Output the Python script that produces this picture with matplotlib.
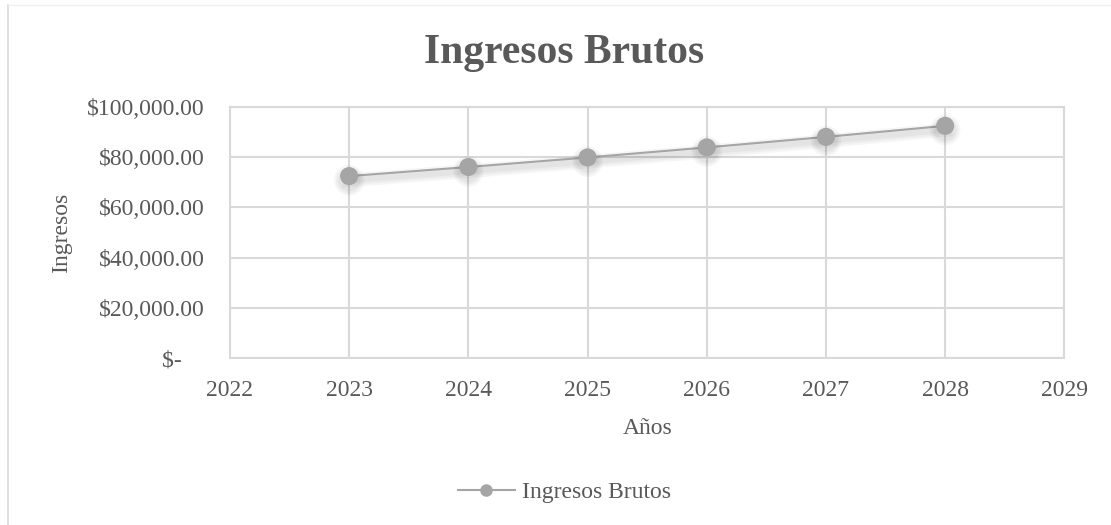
import matplotlib.pyplot as plt
import matplotlib.patheffects as pe
from matplotlib.lines import Line2D
from matplotlib.ticker import FuncFormatter

# Ingresos brutos proyectados por año
years = [2023, 2024, 2025, 2026, 2027, 2028]
ingresos = [72500, 76125, 79931, 83928, 88124, 92530]

plt.rcParams['font.family'] = ['Liberation Serif', 'DejaVu Serif']

text_color = '#595959'
grid_color = '#d9d9d9'
line_color = '#a5a5a5'


def money(v, pos):
    if v == 0:
        return '$-    '
    return '${:,.2f}'.format(v)


fig = plt.figure(figsize=(11.11, 5.25), dpi=100)
ax = fig.add_axes([0.207, 0.318, 0.751, 0.478])

# soft drop shadow: a few wide, faint strokes under the line
shadow = [pe.SimpleLineShadow(offset=(0, -3), shadow_color='#000000', alpha=0.035, linewidth=w)
          for w in (10, 7, 4)]
ax.plot(years, ingresos, color=line_color, linewidth=1.5, marker='o',
        markersize=12, markerfacecolor=line_color, markeredgecolor=line_color,
        zorder=3, path_effects=shadow + [pe.Normal()])

ax.set_xlim(2022, 2029)
ax.set_ylim(0, 100000)
ax.set_xticks(range(2022, 2030))
ax.set_yticks(range(0, 100001, 20000))
ax.yaxis.set_major_formatter(FuncFormatter(money))

ax.grid(True, color=grid_color, linewidth=1.5)
ax.set_axisbelow(True)
for s in ax.spines.values():
    s.set_color(grid_color)
    s.set_linewidth(1.5)
ax.tick_params(length=0, labelsize=17, colors=text_color)
ax.tick_params(axis='x', pad=16)
ax.tick_params(axis='y', pad=18)

ax.set_xlabel('Años', fontsize=17, color=text_color, labelpad=12)
ax.set_ylabel('Ingresos', fontsize=17, color=text_color, labelpad=11)

fig.text(0.508, 0.90, 'Ingresos Brutos', ha='center', va='center',
         fontsize=30, fontweight='bold', color=text_color)

handle = Line2D([], [], color=line_color, linewidth=1.5, marker='o', markersize=8,
                markerfacecolor=line_color, markeredgecolor=line_color)
leg = fig.legend([handle], ['Ingresos Brutos'], loc='center', bbox_to_anchor=(0.508, 0.062),
                 frameon=False, fontsize=17, handlelength=2.4, handletextpad=0.3)
for t in leg.get_texts():
    t.set_color(text_color)

# chart border
fig.add_artist(Line2D([0.0075, 0.0075], [0, 0.99], color=grid_color, linewidth=1.2, transform=fig.transFigure))
fig.add_artist(Line2D([0.0075, 1], [0.99, 0.99], color='#f0f0f0', linewidth=1.0, transform=fig.transFigure))

plt.savefig('out.png', dpi=100)
